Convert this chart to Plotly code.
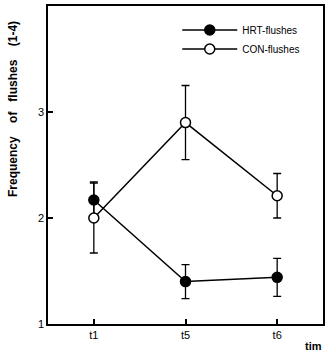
import plotly.graph_objects as go

times = ["t1", "t5", "t6"]
hrt_mean = [2.17, 1.40, 1.44]
hrt_err = [0.17, 0.16, 0.18]
con_mean = [2.00, 2.90, 2.21]
con_err = [0.33, 0.35, 0.21]
x_idx = [0, 1, 2]

fig = go.Figure()
fig.add_trace(go.Scatter(
    x=x_idx, y=hrt_mean, name="HRT-flushes", mode="lines+markers",
    line=dict(color="black", width=1.5),
    marker=dict(symbol="circle", size=10, color="black", line=dict(color="black", width=1.5)),
    error_y=dict(type="data", array=hrt_err, visible=True, color="black", thickness=1.3, width=4),
))
fig.add_trace(go.Scatter(
    x=x_idx, y=con_mean, name="CON-flushes", mode="lines+markers",
    line=dict(color="black", width=1.5),
    marker=dict(symbol="circle", size=10, color="white", line=dict(color="black", width=1.5)),
    error_y=dict(type="data", array=con_err, visible=True, color="black", thickness=1.3, width=4),
))

fig.update_layout(
    width=327, height=356,
    margin=dict(l=48, r=2, t=6, b=32),
    paper_bgcolor="white", plot_bgcolor="white",
    font=dict(family="Liberation Sans, Arial", size=11, color="black"),
    showlegend=True,
    legend=dict(x=0.47, y=0.97, xanchor="left", yanchor="top",
                bgcolor="rgba(0,0,0,0)", font=dict(size=10), itemwidth=55,
                tracegroupgap=0),
    xaxis=dict(range=[-0.5, 2.5], tickmode="array", tickvals=x_idx, ticktext=times,
               ticks="inside", ticklen=5, tickwidth=1.5, tickcolor="black",
               showline=True, linecolor="black", linewidth=1.5, mirror=True,
               showgrid=False, zeroline=False, tickfont=dict(size=11)),
    yaxis=dict(range=[1, 4], tickvals=[1, 2, 3, 4],
               ticks="inside", ticklen=5, tickwidth=1.5, tickcolor="black",
               showline=True, linecolor="black", linewidth=1.5, mirror=True,
               showgrid=False, zeroline=False, tickfont=dict(size=11)),
    annotations=[
        dict(text="<b>Frequency    of   flushes    (1-4)</b>", xref="paper", yref="paper",
             x=-0.125, y=0.675, textangle=-90, showarrow=False,
             xanchor="center", yanchor="middle", font=dict(size=12)),
        dict(text="<b>tim</b>", xref="paper", yref="paper", x=1.005, y=-0.07,
             showarrow=False, xanchor="right", yanchor="middle", font=dict(size=11)),
    ],
)

fig.write_html("out.html")
